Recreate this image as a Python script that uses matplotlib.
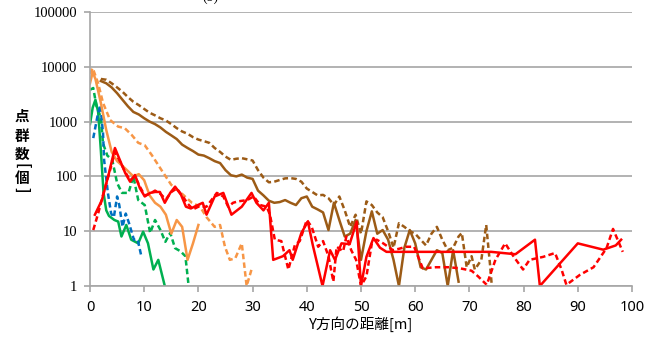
import matplotlib
matplotlib.use("Agg")
import matplotlib.pyplot as plt
from matplotlib.ticker import FixedLocator, NullLocator

# brown (solid / dashed)
brown_s_x = [2, 3, 4, 5, 6, 7, 8, 9, 10, 11, 12, 13, 14, 15, 16, 17, 18, 19, 20, 21, 22, 23, 24, 25,
             26, 27, 28, 29, 30, 31, 32, 33, 34, 35, 36, 37, 38, 39, 40, 41, 42, 43, 44, 45, 46, 47,
             48, 49, 50, 51, 52, 53, 54, 55, 56, 57, 58, 59, 60, 61, 62, 63, 64, 65, 66, 67, 68]
brown_s_y = [5500, 5000, 4200, 3300, 2500, 1900, 1500, 1350, 1150, 1000, 900, 780, 650, 560, 480, 380,
             330, 290, 250, 240, 215, 190, 175, 130, 105, 100, 108, 95, 90, 55, 45, 36, 33, 34, 37, 33,
             30, 40, 43, 28, 25, 22, 10.5, 33, 16, 8, 9, 16, 3, 10, 23, 9, 10.5, 7, 3, 1, 5, 10.5, 6,
             2.2, 2, 3, 4.5, 4, 1, 4.5, 1.2]
brown_d_x = [2, 3, 4, 5, 6, 7, 8, 9, 10, 11, 12, 13, 14, 15, 16, 17, 18, 19, 20, 21, 22, 23, 24, 25,
             26, 27, 28, 29, 30, 31, 32, 33, 34, 35, 36, 37, 38, 39, 40, 41, 42, 43, 44, 45, 46, 47,
             48, 49, 50, 51, 52, 53, 54, 55, 56, 57, 58, 59, 60, 61, 62, 63, 64, 65, 66, 67, 68, 68.6,
             69.5, 70.4, 71, 72.2, 73.1, 73.8, 74.1]
brown_d_y = [6000, 5800, 5000, 4200, 3500, 2800, 2300, 2000, 1700, 1450, 1300, 1150, 1050, 900, 760,
             660, 600, 520, 470, 440, 410, 330, 280, 230, 200, 210, 215, 205, 195, 130, 95, 78, 80, 86,
             92, 93, 90, 80, 60, 52, 45, 46, 40, 30, 43, 24, 12, 20, 9, 35, 30, 22, 18, 10, 5, 14, 12,
             10, 9, 7, 5.5, 9, 12, 7, 4.5, 5, 8, 9.3, 2.2, 3.5, 2, 3, 13, 2.5, 1.1]

# orange
orange_s_x = [0, 0.5, 1, 2, 3, 4, 5, 6, 7, 8, 9, 10, 11, 12, 13, 14, 15, 16, 17, 18, 19, 20]
orange_s_y = [5000, 8000, 6000, 2200, 700, 280, 190, 155, 125, 100, 110, 85, 45, 33, 28, 20, 9, 16,
              12, 3, 6, 13]
orange_d_x = [0, 0.5, 1.5, 2.4, 3.7, 5.2, 6.4, 7.7, 8.9, 10.1, 11.4, 13.2, 15, 16.8, 18.8, 20.3,
              21.5, 23, 24, 24.9, 25.8, 26.8, 28, 28.9, 29.8]
orange_d_y = [7500, 9500, 5000, 2200, 1070, 810, 760, 570, 410, 370, 245, 130, 70, 50, 33, 28, 18,
              12, 13, 5.2, 3, 3.2, 6, 1, 2]

# red
red_s_x = [0.9, 2.2, 3.5, 4.6, 5.5, 6.5, 7.4, 8.3, 9.2, 10.1, 11.1, 12, 12.9, 13.8, 14.8, 15.7, 16.8,
           17.7, 18.6, 19.9, 20.8, 21.5, 23, 24.6, 26.1, 28, 29.8, 30.7, 32, 33, 33.8, 35.6, 36.8,
           37.4, 39, 40.2, 41.1, 42.9, 44.3, 45.2, 46.4, 47.9, 49.2, 50, 51, 52.3, 53.5, 54.7, 60, 70,
           74, 78.5, 82.1, 83, 90, 94.7, 97, 98]
red_s_y = [20, 37, 115, 330, 200, 115, 80, 106, 61, 43, 50, 52, 52, 33, 50, 65, 46, 28, 26, 30, 33,
           20, 43, 50, 20, 28, 50, 33, 24, 33, 3, 3.5, 4.5, 3, 9.3, 15, 5.6, 1, 4.5, 3, 6, 5.8, 15, 1,
           3.4, 7.5, 5, 4.2, 4.2, 4.2, 4.2, 3.8, 7, 1, 6, 4.6, 5.5, 7]
red_d_x = [0.6, 1.5, 2.5, 3.5, 4.6, 5.5, 6.5, 7.4, 8.3, 9.2, 10.1, 11, 12, 13, 14, 15, 16, 17, 18, 19,
           20, 21.5, 23.4, 24.6, 25.5, 26.4, 27.3, 29, 30.2, 31.4, 32.6, 33.2, 34.1, 35.3, 36.6, 37.8,
           38.7, 40, 40.9, 42.1, 43, 44, 44.9, 45.5, 46.7, 47.3, 48.2, 49.1, 50, 51, 52, 52.9, 54.1,
           55.9, 57.1, 58.3, 59.8, 61.4, 63.8, 66.2, 68.3, 70.4, 71.6, 73.2, 74.8, 76.6, 78.2, 79.9,
           81.1, 83.6, 85.8, 87, 87.9, 90.4, 92.9, 95.3, 96.5, 98.3]
red_d_y = [10.5, 21, 50, 110, 280, 190, 120, 85, 100, 65, 45, 48, 55, 48, 38, 52, 60, 45, 32, 25, 28,
           28, 50, 43, 28, 33, 35, 37, 43, 30, 28, 20, 7, 6.6, 2, 5.6, 6.6, 16, 12, 5.2, 6.6, 3.5, 1.2,
           5.2, 4.3, 8, 4.5, 3, 1, 1.5, 6, 7, 6, 4.5, 4.8, 5.2, 5.2, 2.1, 2.2, 2.2, 2.1, 1.9, 1.5, 1.05,
           3, 6, 3.4, 2, 3, 3.4, 4, 2, 1.05, 1.6, 2.2, 4.9, 11, 4.2]

# green
green_s_x = [0, 0.5, 1, 1.5, 2, 2.5, 3, 3.5, 4.5, 5.2, 5.8, 6.7, 7.6, 8.9, 9.8, 10.7, 11.7, 12.6, 13.8]
green_s_y = [900, 1800, 2500, 1500, 300, 50, 24, 19, 16, 15, 8, 13, 7, 6, 9.8, 6, 2, 3, 1]
green_d_x = [0, 0.6, 1.2, 2, 2.4, 3.2, 4.1, 5, 5.9, 7.1, 8, 8.9, 10.1, 11.1, 12, 13, 13.9, 14.8, 15.7,
             16.7, 17.6, 18.2]
green_d_y = [3800, 4100, 1900, 1200, 400, 240, 200, 76, 50, 50, 100, 37, 30, 9.3, 16, 10.5, 6.4, 9.3,
             4.9, 4.3, 3.5, 1]

# blue (dashed only)
blue_d_x = [0.6, 1.5, 1.9, 2.4, 2.6, 3.3, 3.9, 4.4, 5, 5.4, 6, 6.6, 7.2, 8.1, 8.8, 9.5]
blue_d_y = [500, 1450, 2000, 620, 200, 50, 21, 18, 43, 30, 12, 21, 14, 7, 7, 3.4]

x_ticks = [0, 10, 20, 30, 40, 50, 60, 70, 80, 90, 100]
y_ticks = [1, 10, 100, 1000, 10000, 100000]

BROWN = "#9C5B16"
ORANGE = "#F79646"
RED = "#FF0000"
GREEN = "#00B050"
BLUE = "#0070C0"
GRID = "#A6A6A6"
CJK = ["Noto Sans CJK JP", "DejaVu Sans"]

fig = plt.figure(figsize=(6.64, 3.38), dpi=100)
ax = fig.add_axes([90 / 664, 1 - 286 / 338, 542 / 664, 274 / 338])

lw = 1.8
dash = (2.2, 1.3)
series = [
    (green_s_x, green_s_y, GREEN, False),
    (green_d_x, green_d_y, GREEN, True),
    (blue_d_x, blue_d_y, BLUE, True),
    (orange_s_x, orange_s_y, ORANGE, False),
    (orange_d_x, orange_d_y, ORANGE, True),
    (brown_s_x, brown_s_y, BROWN, False),
    (brown_d_x, brown_d_y, BROWN, True),
    (red_d_x, red_d_y, RED, True),
    (red_s_x, red_s_y, RED, False),
]
for xs, ys, c, dashed in series:
    line, = ax.plot(xs, ys, color=c, lw=lw, solid_joinstyle="round")
    if dashed:
        line.set_dashes(dash)
        line.set_dash_capstyle("butt")

ax.set_yscale("log")
ax.set_ylim(1, 100000)
ax.set_xlim(0, 100)
ax.yaxis.set_major_locator(FixedLocator(y_ticks))
ax.yaxis.set_minor_locator(NullLocator())
ax.set_yticklabels([str(v) for v in y_ticks], family="Liberation Serif", fontsize=10.5)
ax.set_xticks(x_ticks)
ax.set_xticklabels([str(v) for v in x_ticks], family="Noto Sans", fontsize=10.5)

ax.yaxis.grid(True, color=GRID, lw=1.2)
ax.set_axisbelow(True)
for s in ["top", "right"]:
    ax.spines[s].set_visible(False)
for s in ["left", "bottom"]:
    ax.spines[s].set_color(GRID)
    ax.spines[s].set_linewidth(1.2)
ax.tick_params(axis="both", direction="out", length=4, color=GRID, width=1.2)
ax.tick_params(axis="y", pad=5)
ax.tick_params(axis="x", pad=6)

ax.set_xlabel("Y方向の距離[m]", family=CJK, fontsize=10.5, labelpad=1)

# vertical y label, stacked characters (brackets turned as in vertical writing)
ylab = [("点", 116, 0), ("群", 136, 0), ("数", 154, 0), ("[", 166, -90), ("個", 177.5, 0), ("]", 190, -90)]
for ch, ypx, rot in ylab:
    fig.text(22 / 664, 1 - ypx / 338, ch, ha="center", va="center", fontsize=10.5,
             fontweight="bold", family=CJK, rotation=rot)

# title mostly cut off at top edge, only its lower rim shows
fig.text(210 / 664, 1 - 4 / 338, "(b)", ha="center", va="bottom", fontsize=10, family="Liberation Serif")

fig.savefig("out.png", dpi=100)
